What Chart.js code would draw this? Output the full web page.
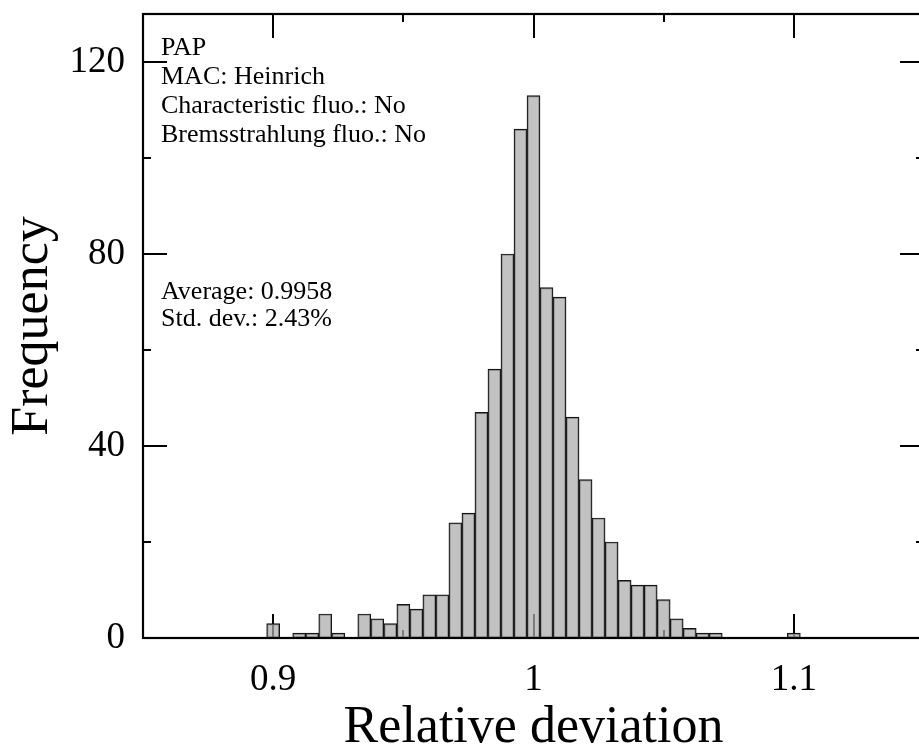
<!DOCTYPE html>
<html lang="en">
<head>
  <meta charset="UTF-8" />
  <title>Relative deviation histogram</title>
  <script src="https://cdn.jsdelivr.net/npm/chart.js"></script>
  <style>
    html, body { margin: 0; padding: 0; background: #fff; overflow: hidden; }
    #wrap { width: 919px; height: 747px; overflow: hidden; }
    canvas { display: block; }
  </style>
</head>
<body>
  <div id="wrap"><canvas id="histChart" width="930" height="747"></canvas></div>

  <script>
    // histogram bins (centre of each 0.005 wide bin) and their counts
    const binCenters = [0.900, 0.905, 0.910, 0.915, 0.920, 0.925, 0.930, 0.935, 0.940, 0.945,
                        0.950, 0.955, 0.960, 0.965, 0.970, 0.975, 0.980, 0.985, 0.990, 0.995,
                        1.000, 1.005, 1.010, 1.015, 1.020, 1.025, 1.030, 1.035, 1.040, 1.045,
                        1.050, 1.055, 1.060, 1.065, 1.070, 1.100];
    const counts = [3, 0, 1, 1, 5, 1, 0, 5, 4, 3,
                    7, 6, 9, 9, 24, 26, 47, 56, 80, 106,
                    113, 73, 71, 46, 33, 25, 20, 12, 11, 11,
                    8, 4, 2, 1, 1, 1];

    const xTickValues = [0.9, 1.0, 1.1];
    const xMinorValues = [0.95, 1.05];
    const yTickValues = [0, 40, 80, 120];
    const yMinorValues = [20, 60, 100];

    const settingsText = ['PAP', 'MAC: Heinrich', 'Characteristic fluo.: No', 'Bremsstrahlung fluo.: No'];
    const statsText = ['Average: 0.9958', 'Std. dev.: 2.43%'];

    const SERIF = '"Liberation Serif", "Times New Roman", serif';

    // only non-empty bins get a bar
    const barData = [];
    binCenters.forEach((x, i) => {
      if (counts[i] > 0) barData.push({ x: x, y: counts[i] });
    });

    // inward ticks under the bars, frame and notes on top
    const framePlugin = {
      id: 'frame',
      beforeDatasetsDraw(chart) {
        const { ctx, chartArea: a, scales } = chart;
        ctx.save();
        ctx.strokeStyle = '#000';
        ctx.lineWidth = 2;
        ctx.beginPath();
        const xt = (vals, len) => vals.forEach(v => {
          const px = Math.round(scales.x.getPixelForValue(v));
          ctx.moveTo(px, a.top); ctx.lineTo(px, a.top + len);
          ctx.moveTo(px, a.bottom); ctx.lineTo(px, a.bottom - len);
        });
        const yt = (vals, len) => vals.forEach(v => {
          const py = Math.round(scales.y.getPixelForValue(v));
          ctx.moveTo(a.left, py); ctx.lineTo(a.left + len, py);
          ctx.moveTo(a.right, py); ctx.lineTo(a.right - len, py);
        });
        xt(xTickValues, 24); xt(xMinorValues, 8);
        yt(yTickValues, 24); yt(yMinorValues, 8);
        ctx.stroke();
        ctx.restore();
      },
      afterDatasetsDraw(chart) {
        const { ctx, chartArea: a } = chart;
        ctx.save();
        ctx.strokeStyle = '#000';
        ctx.lineWidth = 2.2;
        ctx.strokeRect(a.left, a.top, a.right - a.left, a.bottom - a.top);

        ctx.fillStyle = '#000';
        ctx.font = '26px ' + SERIF;
        ctx.textAlign = 'left';
        ctx.textBaseline = 'alphabetic';
        settingsText.forEach((t, i) => ctx.fillText(t, 161, 55 + i * 29));
        statsText.forEach((t, i) => ctx.fillText(t, 161, 299 + i * 27));
        ctx.restore();
      }
    };

    new Chart(document.getElementById('histChart'), {
      type: 'bar',
      data: {
        datasets: [{
          data: barData,
          backgroundColor: 'rgba(170,170,170,0.72)',
          borderColor: '#151515',
          borderWidth: 1.2,
          borderSkipped: false,
          barPercentage: 1,
          categoryPercentage: 1
        }]
      },
      options: {
        responsive: false,
        animation: false,
        layout: { padding: { top: 14, right: 6, left: 0, bottom: 0 } },
        plugins: { legend: { display: false }, tooltip: { enabled: false } },
        scales: {
          x: {
            type: 'linear',
            min: 0.85,
            max: 1.15,
            offset: false,
            grid: { display: false, drawTicks: false },
            border: { display: false },
            afterBuildTicks: s => { s.ticks = xTickValues.map(v => ({ value: v })); },
            afterFit: s => { s.height = 109; s.paddingLeft = 0; s.paddingRight = 0; },
            ticks: {
              padding: 20,
              color: '#000',
              font: { family: SERIF, size: 37 },
              callback: v => String(v)
            },
            title: {
              display: true,
              text: 'Relative deviation',
              color: '#000',
              font: { family: SERIF, size: 52 },
              padding: { top: 0, bottom: -13 }
            }
          },
          y: {
            min: 0,
            max: 130,
            grid: { display: false, drawTicks: false },
            border: { display: false },
            afterBuildTicks: s => { s.ticks = yTickValues.map(v => ({ value: v })); },
            afterFit: s => { s.width = 143; s.paddingTop = 0; s.paddingBottom = 0; },
            ticks: {
              padding: 18,
              color: '#000',
              font: { family: SERIF, size: 37 }
            },
            title: {
              display: true,
              text: 'Frequency',
              color: '#000',
              font: { family: SERIF, size: 52 },
              padding: { top: 2, bottom: 0 }
            }
          }
        }
      },
      plugins: [framePlugin]
    });
  </script>
</body>
</html>
